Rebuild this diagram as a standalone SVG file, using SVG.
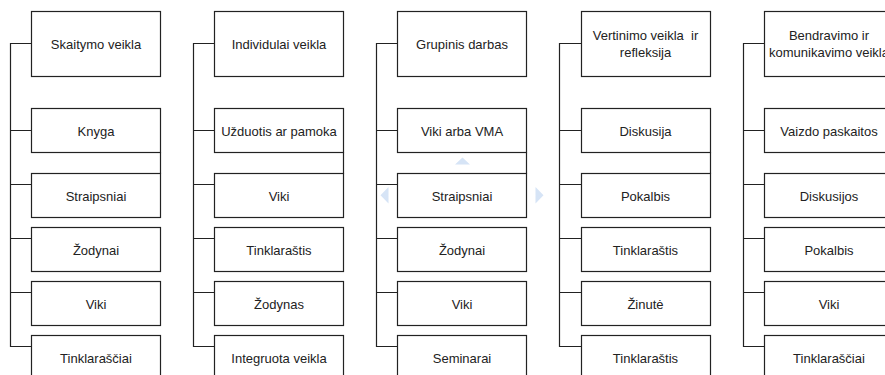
<svg xmlns="http://www.w3.org/2000/svg" width="885" height="375" viewBox="0 0 885 375">
<defs>
<style>
.box{fill:#fff;stroke:#222;stroke-width:1.2}
.ln{fill:none;stroke:#222;stroke-width:1.2}
.t{font-family:"Liberation Sans",Arial,sans-serif;font-size:13px;fill:#222;text-anchor:middle;dominant-baseline:central}
.hint{fill:#d6e4f6}
</style>
</defs>
<rect width="885" height="375" fill="#fff"/>
<g id="connectors">
<path class="ln" d="M31.5 43.5H10.5V346.5H31.5M10.5 130.5H31.5M10.5 184.5H31.5M10.5 238.5H31.5M10.5 292.5H31.5M160.5 152.5V173.5"/>
<path class="ln" d="M214.5 43.5H193.5V346.5H214.5M193.5 130.5H214.5M193.5 184.5H214.5M193.5 238.5H214.5M193.5 292.5H214.5M343.5 152.5V173.5"/>
<path class="ln" d="M397.5 43.5H376.5V346.5H397.5M376.5 130.5H397.5M376.5 184.5H397.5M376.5 238.5H397.5M376.5 292.5H397.5M526.5 152.5V173.5"/>
<path class="ln" d="M581.5 43.5H559.5V346.5H581.5M559.5 130.5H581.5M559.5 184.5H581.5M559.5 238.5H581.5M559.5 292.5H581.5M710.5 152.5V173.5"/>
<path class="ln" d="M764.5 43.5H743.5V346.5H764.5M743.5 130.5H764.5M743.5 184.5H764.5M743.5 238.5H764.5M743.5 292.5H764.5M893.5 152.5V173.5"/>
</g>
<g id="hints">
<polygon class="hint" points="455,164.5 470,164.5 462.5,157.5"/>
<polygon class="hint" points="388.5,187 388.5,203.5 380.5,195.2"/>
<polygon class="hint" points="535.5,187 535.5,203.5 543.5,195.2"/>
</g>
<!-- column 1 -->
<g id="c1-0"><rect class="box" x="31.5" y="11.5" width="129" height="65"/><text class="t" x="96" y="44">Skaitymo veikla</text></g>
<g id="c1-1"><rect class="box" x="31.5" y="108.5" width="129" height="44"/><text class="t" x="96" y="131">Knyga</text></g>
<g id="c1-2"><rect class="box" x="31.5" y="173.5" width="129" height="44"/><text class="t" x="96" y="196">Straipsniai</text></g>
<g id="c1-3"><rect class="box" x="31.5" y="227.5" width="129" height="44"/><text class="t" x="96" y="250">Žodynai</text></g>
<g id="c1-4"><rect class="box" x="31.5" y="281.5" width="129" height="44"/><text class="t" x="96" y="304">Viki</text></g>
<g id="c1-5"><rect class="box" x="31.5" y="335.5" width="129" height="44"/><text class="t" x="96" y="358">Tinklaraščiai</text></g>
<!-- column 2 -->
<g id="c2-0"><rect class="box" x="214.5" y="11.5" width="129" height="65"/><text class="t" x="279" y="44">Individulai veikla</text></g>
<g id="c2-1"><rect class="box" x="214.5" y="108.5" width="129" height="44"/><text class="t" x="279" y="131">Užduotis ar pamoka</text></g>
<g id="c2-2"><rect class="box" x="214.5" y="173.5" width="129" height="44"/><text class="t" x="279" y="196">Viki</text></g>
<g id="c2-3"><rect class="box" x="214.5" y="227.5" width="129" height="44"/><text class="t" x="279" y="250">Tinklaraštis</text></g>
<g id="c2-4"><rect class="box" x="214.5" y="281.5" width="129" height="44"/><text class="t" x="279" y="304">Žodynas</text></g>
<g id="c2-5"><rect class="box" x="214.5" y="335.5" width="129" height="44"/><text class="t" x="279" y="358">Integruota veikla</text></g>
<!-- column 3 -->
<g id="c3-0"><rect class="box" x="397.5" y="11.5" width="129" height="65"/><text class="t" x="462" y="44">Grupinis darbas</text></g>
<g id="c3-1"><rect class="box" x="397.5" y="108.5" width="129" height="44"/><text class="t" x="462" y="131">Viki arba VMA</text></g>
<g id="c3-2"><rect class="box" x="397.5" y="173.5" width="129" height="44"/><text class="t" x="462" y="196">Straipsniai</text></g>
<g id="c3-3"><rect class="box" x="397.5" y="227.5" width="129" height="44"/><text class="t" x="462" y="250">Žodynai</text></g>
<g id="c3-4"><rect class="box" x="397.5" y="281.5" width="129" height="44"/><text class="t" x="462" y="304">Viki</text></g>
<g id="c3-5"><rect class="box" x="397.5" y="335.5" width="129" height="44"/><text class="t" x="462" y="358">Seminarai</text></g>
<!-- column 4 -->
<g id="c4-0"><rect class="box" x="581.5" y="11.5" width="129" height="65"/><text class="t" x="645.5" y="35" xml:space="preserve">Vertinimo veikla  ir</text><text class="t" x="645.5" y="52">refleksija</text></g>
<g id="c4-1"><rect class="box" x="581.5" y="108.5" width="129" height="44"/><text class="t" x="645.5" y="131">Diskusija</text></g>
<g id="c4-2"><rect class="box" x="581.5" y="173.5" width="129" height="44"/><text class="t" x="645.5" y="196">Pokalbis</text></g>
<g id="c4-3"><rect class="box" x="581.5" y="227.5" width="129" height="44"/><text class="t" x="645.5" y="250">Tinklaraštis</text></g>
<g id="c4-4"><rect class="box" x="581.5" y="281.5" width="129" height="44"/><text class="t" x="645.5" y="304">Žinutė</text></g>
<g id="c4-5"><rect class="box" x="581.5" y="335.5" width="129" height="44"/><text class="t" x="645.5" y="358">Tinklaraštis</text></g>
<!-- column 5 -->
<g id="c5-0"><rect class="box" x="764.5" y="11.5" width="129" height="65"/><text class="t" x="829" y="35">Bendravimo ir</text><text class="t" x="829" y="52">komunikavimo veikla</text></g>
<g id="c5-1"><rect class="box" x="764.5" y="108.5" width="129" height="44"/><text class="t" x="829" y="131">Vaizdo paskaitos</text></g>
<g id="c5-2"><rect class="box" x="764.5" y="173.5" width="129" height="44"/><text class="t" x="829" y="196">Diskusijos</text></g>
<g id="c5-3"><rect class="box" x="764.5" y="227.5" width="129" height="44"/><text class="t" x="829" y="250">Pokalbis</text></g>
<g id="c5-4"><rect class="box" x="764.5" y="281.5" width="129" height="44"/><text class="t" x="829" y="304">Viki</text></g>
<g id="c5-5"><rect class="box" x="764.5" y="335.5" width="129" height="44"/><text class="t" x="829" y="358">Tinklaraščiai</text></g>
</svg>
